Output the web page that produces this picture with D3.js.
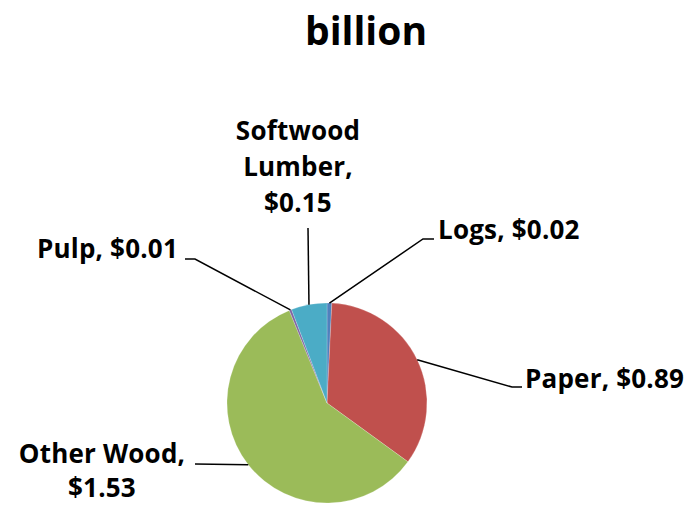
<!DOCTYPE html>
<html><head><meta charset="utf-8">
<script src="https://cdn.jsdelivr.net/npm/d3@7"></script>
<style>
html,body{margin:0;padding:0;background:#fff;}
text{font-family:"Open Sans",sans-serif;font-weight:700;fill:#000;}
</style></head>
<body><svg id="c" width="692" height="505"></svg>
<script>
const categories = ["Logs", "Paper", "Other Wood", "Pulp", "Softwood Lumber"];
const values = [0.02, 0.89, 1.53, 0.01, 0.15];
const colors = ["#4F81BD", "#C0504D", "#9BBB59", "#8064A2", "#4BACC6"];
const labelLines = [["Logs, $0.02"], ["Paper, $0.89"], ["Other Wood,", "$1.53"], ["Pulp, $0.01"], ["Softwood", "Lumber,", "$0.15"]];
const title = "billion";

// layout (positions only)
const cx = 327, cy = 403, R = 100;
const layout = [
  {elbow:[423,239], end:[434,239], tx:438, ty:239, anchor:"start", gap:36},
  {elbow:[512,387], end:[522,387], tx:525, ty:388, anchor:"start", gap:36},
  {elbow:[195,464], end:[195,464], tx:102, ty:463, anchor:"middle", gap:34},
  {elbow:[195,259], end:[185,259], tx:178, ty:258, anchor:"end", gap:36},
  {elbow:[308,228], end:[308,228], tx:298, ty:140, anchor:"middle", gap:36}
];

const svg = d3.select("#c");
svg.append("text").attr("x", 366).attr("y", 45).attr("text-anchor","middle")
  .style("font-size","39px").text(title);

const pie = d3.pie().sort(null).value(d => d)(values);
const arc = d3.arc().innerRadius(0).outerRadius(R);
const g = svg.append("g").attr("transform", `translate(${cx},${cy})`);
g.selectAll("path").data(pie).enter().append("path")
  .attr("d", arc).attr("fill", (d,i) => colors[i])
  .attr("stroke", "rgba(255,255,255,0.4)").attr("stroke-width", 0.5);

pie.forEach((d,i) => {
  const a = (d.startAngle + d.endAngle)/2;
  const px = cx + R*Math.sin(a), py = cy - R*Math.cos(a);
  const L = layout[i];
  svg.append("polyline")
    .attr("points", [[px,py], L.elbow, L.end].map(p=>p.join(",")).join(" "))
    .attr("fill","none").attr("stroke","#000").attr("stroke-width",1.5);
  const t = svg.append("text").attr("text-anchor", L.anchor)
    .style("font-size","26px").style("letter-spacing","0.2px");
  labelLines[i].forEach((s,j) => {
    t.append("tspan").attr("x", L.tx).attr("y", L.ty + j*L.gap).text(s);
  });
});
</script></body></html>
